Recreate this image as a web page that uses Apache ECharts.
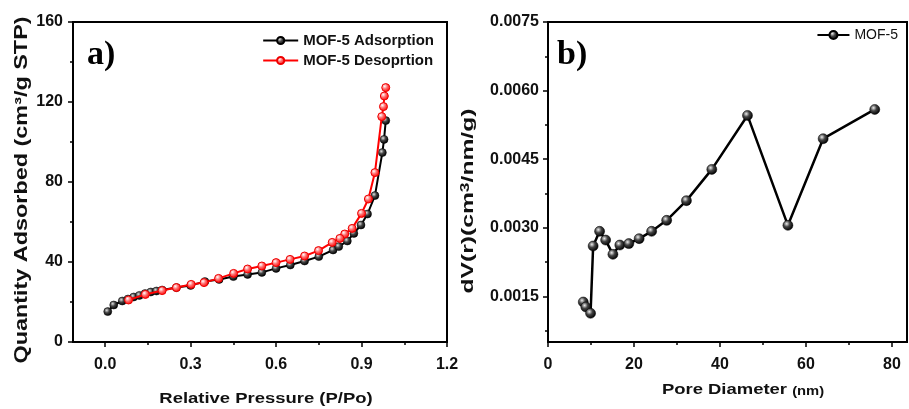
<!DOCTYPE html>
<html><head><meta charset="utf-8">
<script src="https://cdn.jsdelivr.net/npm/echarts@6/dist/echarts.min.js"></script>
<style>html,body{margin:0;padding:0;background:#fff}#c{width:909px;height:409px}</style>
</head><body><div id="c"></div>
<script>
// Panel a: N2 isotherm
const adsPressure = [0.009, 0.03, 0.06, 0.08, 0.1, 0.12, 0.14, 0.16, 0.18, 0.2, 0.25, 0.3, 0.35, 0.4, 0.45, 0.5, 0.55, 0.6, 0.65, 0.7, 0.75, 0.8, 0.82, 0.85, 0.873, 0.898, 0.921, 0.947, 0.973, 0.979, 0.985];
const adsQuantity = [15.2, 18.5, 20.5, 21.5, 22.5, 23.3, 24.2, 25.0, 25.5, 26.0, 27.2, 28.3, 30.2, 31.3, 32.7, 33.8, 34.8, 36.8, 38.5, 40.5, 42.7, 46.0, 47.7, 50.5, 54.3, 58.5, 64.0, 73.2, 94.7, 101.3, 110.7];
const desPressure = [0.985, 0.98, 0.977, 0.971, 0.947, 0.924, 0.9, 0.867, 0.841, 0.824, 0.797, 0.749, 0.7, 0.649, 0.6, 0.55, 0.5, 0.451, 0.398, 0.347, 0.302, 0.25, 0.2, 0.141, 0.082];
const desQuantity = [127.2, 123.0, 117.7, 112.7, 84.7, 71.5, 64.3, 56.8, 54.0, 51.8, 49.8, 45.7, 43.0, 41.3, 39.7, 38.0, 36.5, 34.3, 31.8, 29.7, 28.8, 27.2, 25.7, 23.8, 21.0];
// Panel b: pore size distribution
const poreDiameter = [8.2, 8.8, 9.9, 10.5, 12.0, 13.4, 15.1, 16.7, 18.8, 21.2, 24.1, 27.6, 32.2, 38.1, 46.4, 55.8, 64.0, 76.0];
const poreVolume = [0.001375, 0.001266, 0.001128, 0.0026, 0.002921, 0.00273, 0.002418, 0.002621, 0.002652, 0.002761, 0.002921, 0.003161, 0.003592, 0.004276, 0.005456, 0.003052, 0.004947, 0.005587];
// Tick values
const aXTicks = [0, 0.3, 0.6, 0.9, 1.2];
const aXMinor = [0.15, 0.45, 0.75, 1.05];
const aYTicks = [0, 40, 80, 120, 160];
const aYMinor = [20, 60, 100, 140];
const bXTicks = [0, 20, 40, 60, 80];
const bXMinor = [10, 30, 50, 70];
const bYTicks = [0.0015, 0.003, 0.0045, 0.006, 0.0075];
const bYMinor = [0.00075, 0.00225, 0.00375, 0.00525, 0.00675];

const FF = '"Liberation Sans", Arial, sans-serif';
const zip = (a, b) => a.map((v, i) => [v, b[i]]);
function sphere(c0, c1, c2) {
  return {type: 'radial', x: 0.38, y: 0.35, r: 0.65,
    colorStops: [{offset: 0, color: c0}, {offset: 0.45, color: c1}, {offset: 1, color: c2}]};
}
function mainAxis(gi, min, max, ticks, fmt, margin) {
  return {gridIndex: gi, type: 'value', min: min, max: max,
    axisLine: {show: true, onZero: false, lineStyle: {color: '#000', width: 2}},
    axisTick: {show: true, inside: false, customValues: ticks, length: 5, lineStyle: {color: '#000', width: 1.5}},
    axisLabel: {show: true, customValues: ticks, formatter: fmt, margin: margin, color: '#111',
      fontFamily: FF, fontWeight: 'bold', fontSize: 16},
    splitLine: {show: false}, minorTick: {show: false}};
}
function minorAxis(gi, min, max, ticks) {
  return {gridIndex: gi, type: 'value', min: min, max: max,
    axisLine: {show: false, onZero: false},
    axisTick: {show: true, inside: false, customValues: ticks, length: 3, lineStyle: {color: '#000', width: 1.5}},
    axisLabel: {show: false}, splitLine: {show: false}};
}
const gA = {left: 73, top: 22, width: 374, height: 320};
const gB = {left: 548, top: 22, width: 359, height: 320};

const chart = echarts.init(document.getElementById('c'));
chart.setOption({
  animation: false,
  backgroundColor: '#fff',
  grid: [
    Object.assign({show: true, borderColor: '#000', borderWidth: 2, backgroundColor: 'transparent', outerBoundsMode: 'none'}, gA),
    Object.assign({outerBoundsMode: 'none'}, gA),
    Object.assign({show: true, borderColor: '#000', borderWidth: 2, backgroundColor: 'transparent', outerBoundsMode: 'none'}, gB),
    Object.assign({outerBoundsMode: 'none'}, gB)
  ],
  xAxis: [
    mainAxis(0, -0.113, 1.2, aXTicks, v => v.toFixed(1), 15),
    minorAxis(1, -0.113, 1.2, aXMinor),
    mainAxis(2, 0, 83.5, bXTicks, v => String(Math.round(v)), 15),
    minorAxis(3, 0, 83.5, bXMinor)
  ],
  yAxis: [
    mainAxis(0, 0, 160, aYTicks, v => String(Math.round(v)), 10),
    minorAxis(1, 0, 160, aYMinor),
    mainAxis(2, 0.0005, 0.0075, bYTicks, v => v.toFixed(4), 9),
    minorAxis(3, 0.0005, 0.0075, bYMinor)
  ],
  legend: [
    {data: ['MOF-5 Adsorption', 'MOF-5 Desoprtion'], orient: 'vertical', right: 475, top: 33,
      padding: 0, itemGap: 5, itemWidth: 35, itemHeight: 9,
      textStyle: {fontFamily: FF, fontWeight: 'bold', fontSize: 15, color: '#111'}},
    {data: ['MOF-5'], right: 11, top: 28, padding: 0, itemWidth: 32, itemHeight: 10,
      textStyle: {fontFamily: FF, fontSize: 14, color: '#111'}}
  ],
  series: [
    {type: 'line', name: 'MOF-5 Adsorption', xAxisIndex: 0, yAxisIndex: 0, data: zip(adsPressure, adsQuantity),
      symbol: 'circle', symbolSize: 8, z: 2,
      lineStyle: {color: '#000', width: 2},
      itemStyle: {color: sphere('#e0e0e0', '#444', '#000'), borderColor: '#000', borderWidth: 0.5}},
    {type: 'line', name: 'MOF-5 Desoprtion', xAxisIndex: 0, yAxisIndex: 0, data: zip(desPressure, desQuantity),
      symbol: 'circle', symbolSize: 8, z: 3,
      lineStyle: {color: '#f00', width: 2},
      itemStyle: {color: sphere('#fff', '#ff7070', '#f00'), borderColor: '#e00', borderWidth: 1}},
    {type: 'line', name: 'MOF-5', xAxisIndex: 2, yAxisIndex: 2, data: zip(poreDiameter, poreVolume),
      symbol: 'circle', symbolSize: 10, z: 2,
      lineStyle: {color: '#000', width: 2.5},
      itemStyle: {color: sphere('#eee', '#444', '#000'), borderColor: '#000', borderWidth: 0.5}}
  ],
  graphic: [
    {type: 'text', x: 87, y: 55, z: 10, style: {text: 'a)', font: 'bold 34px "Liberation Serif", serif', fill: '#000',
      textAlign: 'left', textVerticalAlign: 'middle'}},
    {type: 'text', x: 557, y: 55, z: 10, style: {text: 'b)', font: 'bold 34px "Liberation Serif", serif', fill: '#000',
      textAlign: 'left', textVerticalAlign: 'middle'}},
    {type: 'text', x: 266, y: 399, scaleX: 1.23, style: {text: 'Relative Pressure (P/Po)', font: 'bold 15px ' + FF, fill: '#111',
      textAlign: 'center', textVerticalAlign: 'middle'}},
    {type: 'text', x: 743, y: 390, scaleX: 1.23, style: {text: '{a|Pore Diameter }{b|(nm)}', fill: '#111',
      textAlign: 'center', textVerticalAlign: 'middle',
      rich: {a: {font: 'bold 15px ' + FF, fill: '#111'}, b: {font: 'bold 12px ' + FF, fill: '#111', verticalAlign: 'bottom'}}}},
    {type: 'text', x: 22, y: 190, rotation: Math.PI / 2, scaleX: 1.3, style: {text: 'Quantity Adsorbed (cm³/g STP)',
      font: 'bold 18px ' + FF, fill: '#111', textAlign: 'center', textVerticalAlign: 'middle'}},
    {type: 'text', x: 468, y: 201, rotation: Math.PI / 2, scaleX: 1.45, style: {text: '{n|dV(r)(cm}{s|3}{n|/nm/g)}',
      fill: '#111', textAlign: 'center', textVerticalAlign: 'middle',
      rich: {n: {font: 'bold 17px ' + FF, fill: '#111'}, s: {font: 'bold 12px ' + FF, fill: '#111', verticalAlign: 'top'}}}}
  ]
});
</script></body></html>
